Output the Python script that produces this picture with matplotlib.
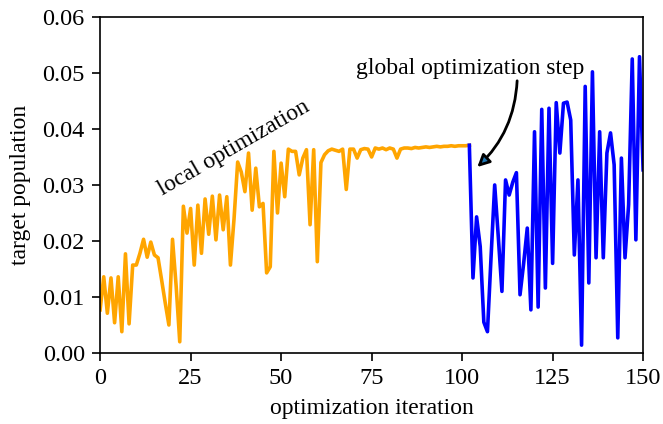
import numpy as np
import matplotlib
matplotlib.use("Agg")
import matplotlib.pyplot as plt

plt.rcParams['font.family'] = ['Liberation Serif', 'DejaVu Serif']

# local optimization phase (iterations 0..102)
local_vals = [
    0.0077, 0.0136, 0.0071, 0.0134, 0.0054, 0.0136, 0.0038, 0.0177, 0.0052, 0.0157,
    0.0157, 0.0178, 0.0203, 0.0171, 0.0198, 0.0175, 0.0170, 0.0130, 0.0089, 0.0050,
    0.0203, 0.0120, 0.0020, 0.0262, 0.0214, 0.0258, 0.0157, 0.0264, 0.0178, 0.0275,
    0.0212, 0.0280, 0.0202, 0.0282, 0.0220, 0.0279, 0.0157, 0.0240, 0.0341, 0.0323,
    0.0288, 0.0357, 0.0255, 0.0330, 0.0261, 0.0267, 0.0143, 0.0154, 0.0360, 0.0250,
    0.0339, 0.0279, 0.0364, 0.0360, 0.0360, 0.0318, 0.0348, 0.0363, 0.0229, 0.0363,
    0.0163, 0.0340, 0.0354, 0.0361, 0.0364, 0.0362, 0.0360, 0.0364, 0.0292, 0.0364,
    0.0364, 0.0348, 0.0363, 0.0365, 0.0364, 0.0350, 0.0366, 0.0364, 0.0366, 0.0363,
    0.0366, 0.0364, 0.0348, 0.0364, 0.0366, 0.0366, 0.0365, 0.0367, 0.0366, 0.0367,
    0.0368, 0.0367, 0.0368, 0.0369, 0.0368, 0.0369, 0.0369, 0.0370, 0.0369, 0.0370,
    0.0370, 0.0370, 0.0371,
]
# global optimization phase (iterations 102..150)
global_vals = [
    0.0371, 0.0134, 0.0243, 0.0190, 0.0055, 0.0038, 0.0172, 0.0300, 0.0207, 0.0110,
    0.0309, 0.0282, 0.0305, 0.0322, 0.0104, 0.0160, 0.0223, 0.0077, 0.0395, 0.0082,
    0.0435, 0.0116, 0.0437, 0.0160, 0.0447, 0.0357, 0.0446, 0.0448, 0.0416, 0.0175,
    0.0309, 0.0014, 0.0476, 0.0125, 0.0502, 0.0170, 0.0395, 0.0170, 0.0357, 0.0393,
    0.0336, 0.0027, 0.0348, 0.0170, 0.0265, 0.0525, 0.0202, 0.0529, 0.0327,
]
local_x = np.arange(len(local_vals))
global_x = np.arange(len(global_vals)) + local_x[-1]

fig = plt.figure(figsize=(6.63, 4.24), dpi=100)
ax = fig.add_axes([0.151, 0.1675, 0.819, 0.7925])

ax.plot(local_x, local_vals, color='orange', lw=2.6)
ax.plot(global_x, global_vals, color='blue', lw=2.6)

ax.set_xlim(0, 150)
ax.set_ylim(0, 0.06)
ax.set_xticks([0, 25, 50, 75, 100, 125, 150])
ax.set_yticks([0.00, 0.01, 0.02, 0.03, 0.04, 0.05, 0.06])
ax.tick_params(labelsize=17.5, length=6, width=1.2, pad=5)
for s in ax.spines.values():
    s.set_linewidth(1.2)
ax.set_xlabel('optimization iteration', fontsize=17, labelpad=6)
ax.set_ylabel('target population', fontsize=17, labelpad=8)

ax.text(37, 0.0366, 'local optimization', fontsize=17, rotation=30,
        ha='center', va='center')
ax.text(102.2, 0.0508, 'global optimization step', fontsize=17,
        ha='center', va='center')
ax.annotate('', xy=(104.2, 0.0332), xytext=(115.2, 0.0486),
            arrowprops=dict(arrowstyle='-|>', connectionstyle='arc3,rad=-0.2',
                            fc='#1f77b4', ec='black', lw=2, mutation_scale=18,
                            shrinkA=0, shrinkB=0))

plt.savefig('out.png', dpi=100)
